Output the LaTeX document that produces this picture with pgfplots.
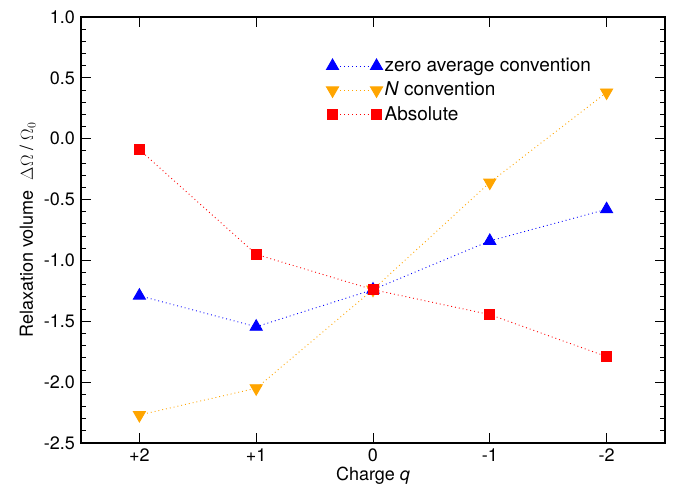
\documentclass[border=0pt]{standalone}
\usepackage{pgfplots}
\pgfplotsset{compat=1.18}
\usepackage{fontspec}
\setmainfont{TeX Gyre Heros}
\definecolor{myorange}{RGB}{255,165,0}

\begin{document}
\fontsize{18}{21}\selectfont
\begin{tikzpicture}
\begin{axis}[
    name=main,
    scale only axis,
    width=584pt, height=426pt,
    xmin=-0.5, xmax=4.5,
    ymin=-2.5, ymax=1.0,
    xtick={0,1,2,3,4},
    xticklabels={+2,+1,0,-1,-2},
    ytick={-2.5,-2,...,1.0},
    minor y tick num=4,
    tick pos=both,
    tick align=inside,
    major tick length=10pt,
    minor tick length=5pt,
    axis line style={line width=1.1pt},
    every tick/.style={black, line width=0.9pt},
    /pgf/number format/assume math mode=true,
    yticklabel style={/pgf/number format/fixed, /pgf/number format/precision=1, /pgf/number format/fixed zerofill},
    xlabel={Charge \textit{q}},
    ylabel={Relaxation volume \ $\Delta\Omega$ / $\Omega_0$},
    xlabel style={yshift=7pt},
    ylabel style={yshift=-4pt},
    legend style={at={(0.42,0.909)}, anchor=north west, draw=none, fill=none,
        inner sep=0pt, row sep=4pt, font=\fontsize{19}{22}\selectfont},
    legend cell align=left,
    legend image code/.code={%
        \draw[mark repeat=2, mark phase=1, #1] plot coordinates {(0pt,0pt) (22pt,0pt) (44pt,0pt)};},
    every axis plot/.append style={line width=0.9pt, dash pattern=on 0.9pt off 3pt},
]
\addplot[blue, mark=triangle*, mark size=7pt, mark options={solid}]
    coordinates {(0,-1.29) (1,-1.545) (2,-1.24) (3,-0.84) (4,-0.58)};
\addlegendentry{zero average convention}
\addplot[myorange, mark=triangle*, mark size=7pt, mark options={solid, rotate=180}]
    coordinates {(0,-2.27) (1,-2.05) (2,-1.24) (3,-0.36) (4,0.38)};
\addlegendentry{\textit{N} convention}
\addplot[red, mark=square*, mark size=5pt, mark options={solid}]
    coordinates {(0,-0.09) (1,-0.95) (2,-1.24) (3,-1.445) (4,-1.79)};
\addlegendentry{Absolute}
\end{axis}
\pgfresetboundingbox
\useasboundingbox ([xshift=-81pt,yshift=-42pt]main.south west) rectangle ([xshift=8pt,yshift=17pt]main.north east);
\end{tikzpicture}
\end{document}
